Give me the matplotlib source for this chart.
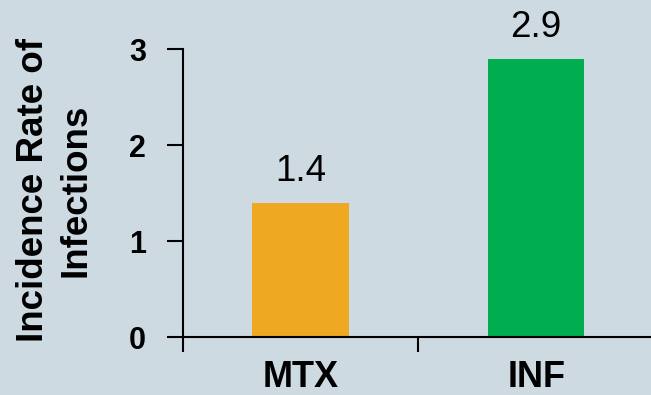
import matplotlib
matplotlib.use("Agg")
import matplotlib.pyplot as plt

# data
categories = ["MTX", "INF"]
rates = [1.4, 2.9]
value_labels = ["1.4", "2.9"]
bar_colors = ["#EEA821", "#00AE4F"]
y_ticks = [0, 1, 2, 3]

bg = "#CDDAE2"
plt.rcParams['font.family'] = ['Liberation Sans', 'DejaVu Sans']

fig = plt.figure(figsize=(6.51, 3.95), dpi=100, facecolor=bg)
ax = fig.add_axes([0.2806, 0.1468, 0.724, 0.729])
ax.set_facecolor(bg)

x = list(range(len(categories)))
bars = ax.bar(x, rates, width=0.41, color=bar_colors)
ax.bar_label(bars, labels=value_labels, padding=9.5, fontsize=26.5, color='black')

ax.set_xlim(-0.5, len(categories) - 0.5)
ax.set_ylim(0, 3)

# boundary ticks (major, no labels) and category labels (minor, no marks)
ax.set_xticks([i - 0.5 for i in range(len(categories) + 1)])
ax.set_xticklabels([])
ax.set_xticks(x, minor=True)
ax.set_xticklabels(categories, minor=True, fontsize=26, fontweight='bold')
ax.tick_params(axis='x', which='major', length=11, width=1.5, direction='out')
ax.tick_params(axis='x', which='minor', length=0, pad=16.5)

ax.set_yticks(y_ticks)
ax.set_yticklabels([str(t) for t in y_ticks], fontsize=22, fontweight='bold')
ax.tick_params(axis='y', length=11.5, width=1.5, direction='out', pad=15)

for side in ['top', 'right']:
    ax.spines[side].set_visible(False)
for side in ['left', 'bottom']:
    ax.spines[side].set_linewidth(1.5)

ax.set_ylabel("Incidence Rate of\nInfections", fontsize=26.5, fontweight='bold',
              linespacing=1.25)
ax.yaxis.set_label_coords(-0.19, 0.51)

fig.savefig("out.png", dpi=100, facecolor=bg)
